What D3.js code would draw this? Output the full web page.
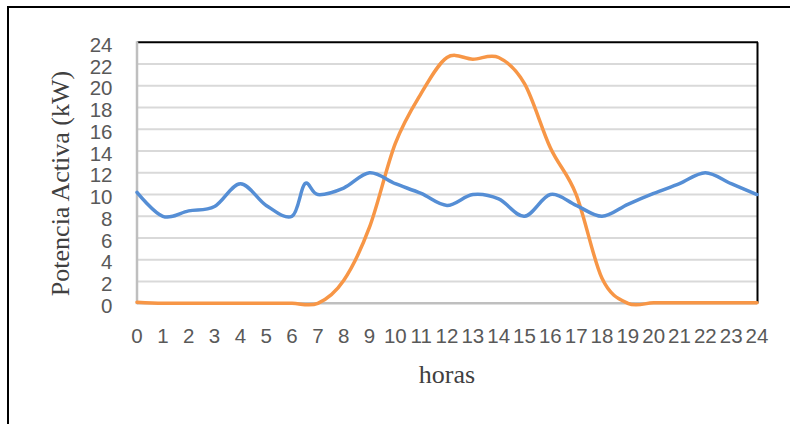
<!DOCTYPE html>
<html>
<head>
<meta charset="utf-8">
<script src="https://cdn.jsdelivr.net/npm/d3@7"></script>
<style>
    body { margin: 0; background: #fff; }
    .tick-label { font-family: "Liberation Sans", Arial, sans-serif; font-size: 20.5px; fill: #595959; }
    .axis-title { font-family: "Liberation Serif", "Times New Roman", serif; font-size: 26px; fill: #404040; }
</style>
</head>
<body>
<div id="chart"></div>
<script>
// data
const hours = [0, 1, 2, 3, 4, 5, 6, 6.5, 7, 8, 9, 10, 11, 12, 13, 14, 15, 16, 17, 18, 19, 20, 21, 22, 23, 24];
const demand = [10.2, 8, 8.5, 8.9, 11, 9, 8, 11, 10, 10.6, 12, 11, 10.1, 9, 10, 9.6, 8, 10, 9, 8, 9.1, 10.1, 11, 12, 11, 10];
const solarHours = [0, 1, 2, 3, 4, 5, 6, 7, 8, 9, 10, 11, 12, 13, 14, 15, 16, 17, 18, 19, 20, 21, 22, 23, 24];
const solar = [0.1, 0, 0, 0, 0, 0, 0, 0, 2.1, 7, 14.7, 19.3, 22.6, 22.45, 22.6, 20.2, 14.3, 10, 2.3, 0, 0.05, 0.05, 0.05, 0.05, 0.05];
const xTicks = d3.range(0, 25);
const yTicks = d3.range(0, 25, 2);

// svg set up
let svgWidth = 790;
let svgHeight = 424;
let plot = { left: 137, right: 757, top: 42.3, bottom: 303.3 };

let svg = d3.select("#chart")
    .append("svg")
    .attr("width", svgWidth)
    .attr("height", svgHeight);

// outer frame
svg.append("rect")
    .attr("x", 8)
    .attr("y", 7)
    .attr("width", 800)
    .attr("height", 430)
    .attr("fill", "none")
    .attr("stroke", "#000")
    .attr("stroke-width", 2);

let x = d3.scaleLinear().domain([0, 24]).range([plot.left, plot.right]);
let y = d3.scaleLinear().domain([0, 24]).range([plot.bottom, plot.top]);

// gridlines
svg.append("g")
    .selectAll("line")
    .data(yTicks.filter(d => d > 0 && d < 24))
    .enter()
    .append("line")
    .attr("x1", plot.left)
    .attr("x2", plot.right)
    .attr("y1", d => y(d))
    .attr("y2", d => y(d))
    .attr("stroke", "#d9d9d9")
    .attr("stroke-width", 2);

// plot border: black top and right, gray axes left and bottom
svg.append("line")
    .attr("x1", plot.left).attr("x2", plot.right + 1)
    .attr("y1", plot.top).attr("y2", plot.top)
    .attr("stroke", "#000").attr("stroke-width", 2);
svg.append("line")
    .attr("x1", plot.right + 0.5).attr("x2", plot.right + 0.5)
    .attr("y1", plot.top).attr("y2", plot.bottom)
    .attr("stroke", "#000").attr("stroke-width", 2);
svg.append("line")
    .attr("x1", plot.left).attr("x2", plot.left)
    .attr("y1", plot.top - 1).attr("y2", plot.bottom + 1)
    .attr("stroke", "#bfbfbf").attr("stroke-width", 2.5);
svg.append("line")
    .attr("x1", plot.left).attr("x2", plot.right)
    .attr("y1", plot.bottom).attr("y2", plot.bottom)
    .attr("stroke", "#bfbfbf").attr("stroke-width", 2.5);

// y tick labels
svg.append("g")
    .selectAll("text")
    .data(yTicks)
    .enter()
    .append("text")
    .attr("class", "tick-label")
    .attr("x", 112.5)
    .attr("y", d => y(d) + 9.5)
    .attr("text-anchor", "end")
    .text(d => d);

// x tick labels
svg.append("g")
    .selectAll("text")
    .data(xTicks)
    .enter()
    .append("text")
    .attr("class", "tick-label")
    .attr("x", d => x(d))
    .attr("y", 342.5)
    .attr("text-anchor", "middle")
    .text(d => d);

// smoothed lines, like the spreadsheet's smooth line option
let lineGen = d3.line()
    .x(d => x(d[0]))
    .y(d => y(d[1]))
    .curve(d3.curveCardinal.tension(0));

svg.append("path")
    .datum(solarHours.map((h, i) => [h, solar[i]]))
    .attr("d", lineGen)
    .attr("fill", "none")
    .attr("stroke", "#f79646")
    .attr("stroke-width", 3.5)
    .attr("stroke-linejoin", "round")
    .attr("stroke-linecap", "round");

svg.append("path")
    .datum(hours.map((h, i) => [h, demand[i]]))
    .attr("d", lineGen)
    .attr("fill", "none")
    .attr("stroke", "#558ed5")
    .attr("stroke-width", 3.5)
    .attr("stroke-linejoin", "round")
    .attr("stroke-linecap", "round");

// axis titles
svg.append("text")
    .attr("class", "axis-title")
    .attr("transform", "translate(68.5,183.5) rotate(-90)")
    .attr("text-anchor", "middle")
    .text("Potencia Activa (kW)");

svg.append("text")
    .attr("class", "axis-title")
    .attr("x", (plot.left + plot.right) / 2)
    .attr("y", 383)
    .attr("text-anchor", "middle")
    .text("horas");
</script>
</body>
</html>
